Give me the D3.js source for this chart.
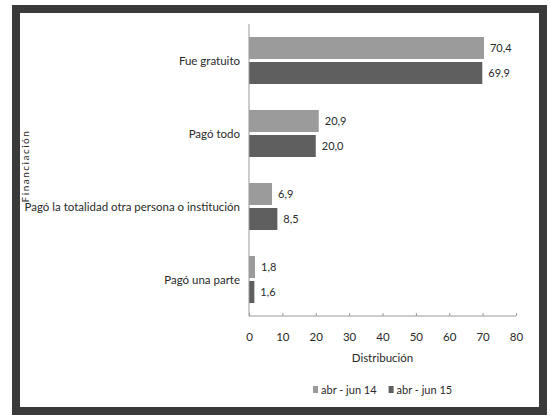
<!DOCTYPE html>
<html><head><meta charset="utf-8">
<script src="https://cdn.jsdelivr.net/npm/d3@7"></script>
<style>body{margin:0;background:#fff}svg{display:block}text{font-family:Lato,"Liberation Sans",sans-serif;fill:#2a2a2a}</style>
</head><body><svg id="c" width="550" height="417"></svg>
<script>
const categories = ["Fue gratuito","Pagó todo","Pagó la totalidad otra persona o institución","Pagó una parte"];
const seriesNames = ["abr - jun 14","abr - jun 15"];
const values14 = [70.4, 20.9, 6.9, 1.8];
const values15 = [69.9, 20.0, 8.5, 1.6];
const xTicks = [0,10,20,30,40,50,60,70,80];
const colors = ["#9b9b9b","#5f5f5f"];

const svg = d3.select("#c");
// frame
svg.append("rect").attr("x",16).attr("y",9).attr("width",527).attr("height",402)
  .attr("fill","#fff").attr("stroke","#3a3a3a").attr("stroke-width",8);

const x = d3.scaleLinear().domain([0,80]).range([249,516]);
const y = d3.scaleBand().domain(categories).range([24,316]);
const sub = d3.scaleBand().domain([0,1]).range([13,y.bandwidth()-13]).paddingInner(0.12);

const data = [values14, values15];
categories.forEach((c,i)=>{
  data.forEach((vals,s)=>{
    const by = y(c)+sub(s);
    svg.append("rect").attr("x",x(0)).attr("y",by).attr("width",x(vals[i])-x(0)).attr("height",sub.bandwidth())
      .attr("fill",colors[s]);
    svg.append("text").attr("x",x(vals[i])+6).attr("y",by+sub.bandwidth()/2).attr("dy","0.35em")
      .attr("font-size",11).text(d3.format(".1f")(vals[i]).replace(".",","));
  });
  const t = svg.append("text").attr("x",240).attr("y",y(c)+y.bandwidth()/2).attr("dy","0.35em")
    .attr("text-anchor","end").attr("font-size",11.5).text(c);
  const w = t.node().getComputedTextLength();
  if (w > 216) t.attr("textLength",216).attr("lengthAdjust","spacingAndGlyphs");
});

// y axis line
svg.append("line").attr("x1",x(0)).attr("x2",x(0)).attr("y1",24).attr("y2",316).attr("stroke","#999");

// x axis
const ax = svg.append("g").attr("transform","translate(0,316)")
  .call(d3.axisBottom(x).tickValues(xTicks).tickSize(3).tickPadding(14).tickFormat(d3.format("d")));
ax.select(".domain").attr("stroke","#999").attr("d","M249,0H516");
ax.selectAll(".tick line").attr("stroke","#999").attr("y1",-3).attr("y2",0);
ax.selectAll("text").attr("font-size",11.5).attr("fill","#2a2a2a");

svg.append("text").attr("x",x(40)).attr("y",362).attr("text-anchor","middle").attr("font-size",11.5).text("Distribución");
svg.append("text").attr("transform","translate(29,166) rotate(-90)").attr("text-anchor","middle")
  .attr("font-size",10).attr("letter-spacing",1.5).text("Financiación");

// legend
let gx = 313;
seriesNames.forEach((n,s)=>{
  svg.append("rect").attr("x",gx).attr("y",386).attr("width",5).attr("height",7).attr("fill",colors[s]);
  const t = svg.append("text").attr("x",gx+8).attr("y",390).attr("dy","0.35em").attr("font-size",11).text(n);
  gx += 8 + t.node().getComputedTextLength() + 12;
});
</script></body></html>
